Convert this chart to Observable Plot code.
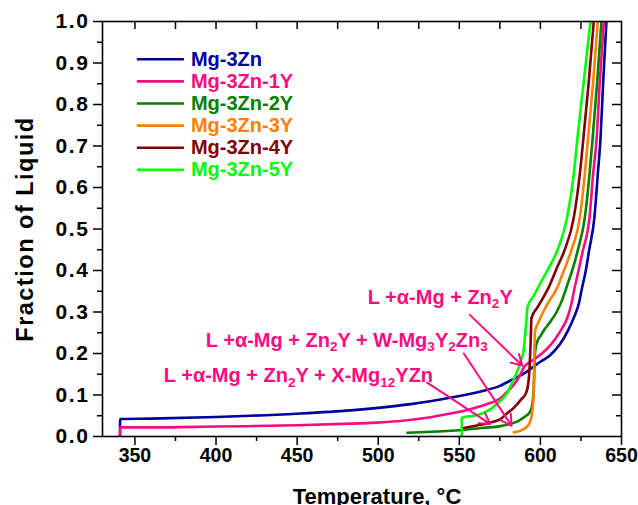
<!DOCTYPE html>
<html><head><meta charset="utf-8">
<script src="https://cdn.jsdelivr.net/npm/d3@7"></script>
<script src="https://cdn.jsdelivr.net/npm/@observablehq/plot@0.6"></script>
<style>
body{margin:0;background:#fff}
#chart svg{font-family:"Liberation Sans",Arial,sans-serif;}
</style>
</head><body><div id="chart"></div>
<script>
// ---- data ----
const seriesNames = ["Mg-3Zn","Mg-3Zn-1Y","Mg-3Zn-2Y","Mg-3Zn-3Y","Mg-3Zn-4Y","Mg-3Zn-5Y"];
const seriesColors = ["#0000A0","#FF0A80","#008000","#FF8000","#800000","#00FF00"];

const tMg3Zn = [340.8,340.82,360,400,450,483,500,520,545,565,575,583.5,590,595,600,606,612,617,621,624,625.5,628,630,633.3,635.4,637,638.7,640.7];
const fMg3Zn = [0,0.042,0.043,0.047,0.055,0.063,0.069,0.078,0.094,0.11,0.122,0.139,0.152,0.166,0.18,0.196,0.222,0.255,0.29,0.325,0.355,0.40,0.448,0.528,0.633,0.714,0.854,1.0];

const tMg3Zn1Y = [340.8,340.82,360,400,450,483,501.5,515,530,542.6,555,563,570,575.4,579.5,583,585.7,588,590,593,596,600,606.2,612,616.5,619,621.2,623.5,626.2,630.3,632.5,634.6,636.6,639.1];
const fMg3Zn1Y = [0,0.022,0.022,0.024,0.027,0.031,0.034,0.038,0.045,0.054,0.064,0.073,0.082,0.092,0.108,0.122,0.136,0.152,0.168,0.178,0.186,0.197,0.22,0.252,0.285,0.318,0.36,0.40,0.448,0.528,0.633,0.714,0.854,1.0];

const tMg3Zn2Y = [518,530,545,555,565,575.4,581.6,585.7,589,591.9,593.9,595,595.8,596.2,596.5,597,598,600,602,606,610,613,617,620,623,627.4,630.3,632.1,635,637.6];
const fMg3Zn2Y = [0.009,0.011,0.014,0.017,0.021,0.025,0.031,0.036,0.044,0.052,0.062,0.078,0.11,0.15,0.19,0.212,0.228,0.242,0.255,0.276,0.3,0.325,0.37,0.405,0.448,0.528,0.633,0.714,0.854,1.0];

const tMg3Zn3Y = [583.6,587,589.8,592,593.9,595.3,596,596.2,596.4,596.6,599,602.1,606,608.5,610.8,613,616,619,624.3,627.4,629.3,632.5,635.4];
const fMg3Zn3Y = [0.01,0.013,0.018,0.025,0.038,0.07,0.12,0.18,0.22,0.252,0.277,0.303,0.33,0.345,0.362,0.385,0.415,0.448,0.528,0.633,0.714,0.854,1.0];

const tMg3Zn4Y = [551.8,560,569.3,575.4,579.5,583,585.7,588,590.8,592.2,592.9,593.5,594,594.5,598,601,605.2,610,614.8,620.6,624.3,626.4,629.8,632.9];
const fMg3Zn4Y = [0.02,0.026,0.034,0.042,0.056,0.067,0.078,0.089,0.102,0.12,0.142,0.18,0.23,0.286,0.31,0.33,0.36,0.405,0.448,0.528,0.633,0.714,0.854,1.0];

const tMg3Zn5Y = [551.5,551.52,555,559,565,569.3,573,577.4,580,582.6,585,587.7,589.8,590.8,591.5,592,596,600.1,605,610.4,616.5,620.6,622.7,626.7,630.9];
const fMg3Zn5Y = [0,0.045,0.048,0.05,0.057,0.066,0.078,0.094,0.108,0.13,0.15,0.18,0.212,0.255,0.285,0.311,0.34,0.37,0.405,0.448,0.528,0.633,0.714,0.854,1.0];

const xMajorTicks = [350,400,450,500,550,600,650];
const xMinorTicks = [375,425,475,525,575,625];
const xTopTicks = [350,375,400,425,450,475,500,525,550,575,600,625];
const yMajorTicks = [0,0.1,0.2,0.3,0.4,0.5,0.6,0.7,0.8,0.9,1.0];
const yMinorTicks = [0.05,0.15,0.25,0.35,0.45,0.55,0.65,0.75,0.85,0.95];

const annotationTexts = ["L +α-Mg + Zn_{2}Y", "L +α-Mg + Zn_{2}Y + W-Mg_{3}Y_{2}Zn_{3}", "L +α-Mg + Zn_{2}Y + X-Mg_{12}YZn"];
const annotationT = [493.5, 393.7, 367.8];
const annotationF = [0.335, 0.231, 0.146];
const arrowT1 = [556.5, 552.8, 530.2];
const arrowF1 = [0.293, 0.200, 0.130];
const arrowT2 = [588.8, 582.2, 569.2];
const arrowF2 = [0.171, 0.026, 0.030];

// ---- build ----
const seriesT = [tMg3Zn,tMg3Zn1Y,tMg3Zn2Y,tMg3Zn3Y,tMg3Zn4Y,tMg3Zn5Y];
const seriesF = [fMg3Zn,fMg3Zn1Y,fMg3Zn2Y,fMg3Zn3Y,fMg3Zn4Y,fMg3Zn5Y];
const rows = seriesNames.flatMap((name,i) => seriesT[i].map((t,j) => ({series:name, T:t, f:seriesF[i][j]})));
const legendRows = seriesNames.map((name,i) => ({series:name, color:seriesColors[i], y:0.909 - i*0.0533}));
const annRows = annotationTexts.map((t,i)=>({text:t, T:annotationT[i], f:annotationF[i]}));
const arrowRows = arrowT1.map((t,i)=>({x1:t,y1:arrowF1[i],x2:arrowT2[i],y2:arrowF2[i]}));

const W = 638, H = 505, mL = 102, mR = 17, mT = 21, mB = 69;
const innerW = W - mL - mR, innerH = H - mT - mB;
const annColor = "#FF0A80";
const font = {fontSize: 20, fontWeight: "bold"};

const plot = Plot.plot({
  width: W, height: H,
  marginLeft: mL, marginRight: mR, marginTop: mT, marginBottom: mB,
  style: {fontFamily: '"Liberation Sans", Arial, sans-serif', background: "#fff", color: "#000"},
  x: {domain: [330, 650]},
  y: {domain: [0, 1]},
  color: {domain: seriesNames, range: seriesColors},
  marks: [
    Plot.line(rows, {x: "T", y: "f", z: "series", stroke: "series", strokeWidth: 2.6, curve: "monotone-x", clip: true}),
    Plot.frame({stroke: "#000", strokeWidth: 1.6}),
    Plot.axisX(xMajorTicks, {tickSize: 9, tickPadding: 3, fontSize: 19.5, fontWeight: "bold", label: null, strokeWidth: 1.5}),
    Plot.axisX(xMinorTicks, {tickSize: 5, fill: "none", label: null, strokeWidth: 1.5}),
    Plot.axisY(yMajorTicks, {tickSize: 9, tickPadding: 4, tickFormat: d3.format(".1f"), fontSize: 21, fontWeight: "bold", label: null, strokeWidth: 1.5}),
    Plot.axisY(yMinorTicks, {tickSize: 5, fill: "none", label: null, strokeWidth: 1.5}),
    Plot.tickX(xTopTicks, {x: d => d, insetBottom: innerH - 8, stroke: "#000", strokeWidth: 1.5}),
    Plot.tickY(yMajorTicks.slice(1, -1), {y: d => d, insetLeft: innerW - 9, stroke: "#000", strokeWidth: 1.5}),
    Plot.tickY(yMinorTicks, {y: d => d, insetLeft: innerW - 5, stroke: "#000", strokeWidth: 1.5}),
    Plot.text(["Fraction of Liquid"], {frameAnchor: "left", dx: -77, rotate: -90, textAnchor: "middle", text: d => d, fontSize: 23.5, fontWeight: "bold", fill: "#000"}),
    Plot.text(["Temperature, °C"], {frameAnchor: "bottom", dx: 15, dy: 52, lineAnchor: "top", text: d => d, fontSize: 22, fontWeight: "bold", fill: "#000"}),
    // legend
    Plot.ruleY(legendRows, {y: "y", x1: 351.5, x2: 380.5, stroke: "color", strokeWidth: 2.6}),
    Plot.text(legendRows, {y: "y", x: 384.5, text: "series", fill: "color", textAnchor: "start", ...font}),
    // annotations
    Plot.arrow(arrowRows, {x1: "x1", y1: "y1", x2: "x2", y2: "y2", stroke: annColor, strokeWidth: 2, headLength: 9, bend: 0}),
    Plot.text(annRows, {x: "T", y: "f", text: "text", fill: annColor, textAnchor: "start", ...font})
  ]
});

// letter spacing for y-axis texts (wide lettering in the original)
d3.select(plot).selectAll('g[aria-label="y-axis tick label"] text').style("letter-spacing", "1.6px");
d3.select(plot).selectAll("text").filter(function(){ return this.textContent === "Fraction of Liquid"; }).style("letter-spacing", "1.5px");

// subscripts
d3.select(plot).selectAll("text").each(function(){
  const s = this.textContent;
  if (!s.includes("_{")) return;
  const el = d3.select(this);
  el.text(null);
  const parts = s.split(/(_\{[^}]*\})/);
  let sub = false;
  parts.forEach(p => {
    if (!p) return;
    if (p.startsWith("_{")) {
      el.append("tspan").attr("dy", "0.32em").attr("font-size", "0.68em").text(p.slice(2, -1));
      sub = true;
    } else {
      const t = el.append("tspan").text(p);
      if (sub) { t.attr("dy", "-0.22em"); sub = false; }
    }
  });
});
document.getElementById("chart").appendChild(plot);
</script>
</body></html>
